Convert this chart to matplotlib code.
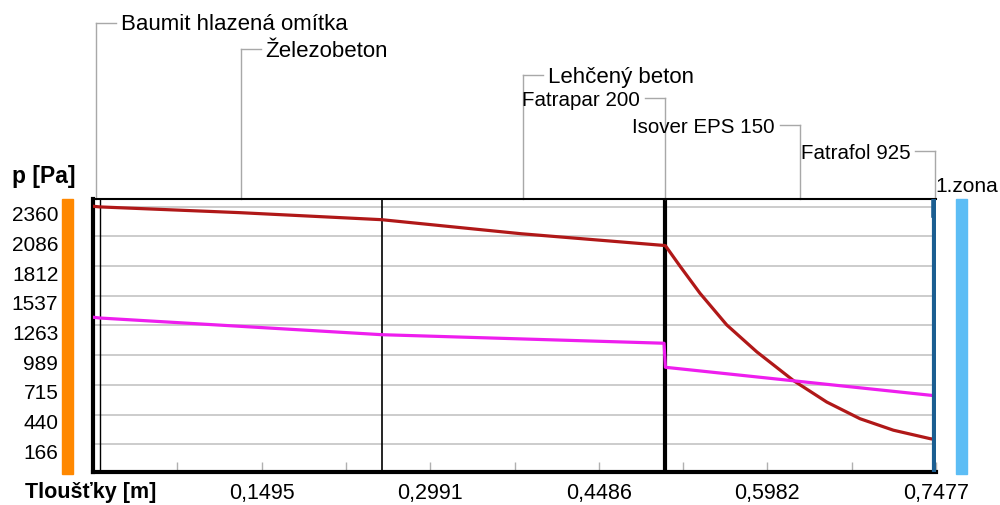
import numpy as np
import matplotlib
matplotlib.use("Agg")
import matplotlib.pyplot as plt
import matplotlib.transforms as mtransforms
from matplotlib.patches import Rectangle
from matplotlib.lines import Line2D

plt.rcParams['font.family'] = ['Liberation Sans', 'DejaVu Sans']

# layers (name, thickness in m)
layer_names = ["Baumit hlazená omítka", "Železobeton", "Lehčený beton",
               "Fatrapar 200", "Isover EPS 150", "Fatrafol 925"]
layer_d = [0.006, 0.25, 0.2505, 0.0012, 0.2385, 0.0015]

# saturated vapour pressure (red)
red_x = [0, 0.006, 0.13, 0.256, 0.38, 0.5065, 0.5077, 0.5207, 0.5384, 0.5621,
         0.5887, 0.6212, 0.6508, 0.6803, 0.7099, 0.7424, 0.7462, 0.7477]
red_y = [2364, 2358, 2305, 2240, 2110, 2002, 2000, 1810, 1560, 1268,
         1020, 755, 556, 402, 296, 218, 212, 210]

# partial vapour pressure (magenta)
mag_x = [0, 0.006, 0.256, 0.5065, 0.5077, 0.7462, 0.7477]
mag_y = [1339, 1332, 1178, 1099, 877, 615, 215]

y_ticks = [166, 440, 715, 989, 1263, 1537, 1812, 2086, 2360]
x_total = 0.7477

W, H = 1000, 506
fig = plt.figure(figsize=(W / 100, H / 100), dpi=100)
ax = fig.add_axes([93 / W, 1 - 473 / H, 843 / W, 273 / H])
ax.set_xlim(0, x_total)
ax.set_ylim(-90, 2431)

# grid
for v in y_ticks:
    ax.axhline(v, color='#c4c4c4', lw=1.2, zorder=1)

bounds = np.cumsum(layer_d)
centers = bounds - np.array(layer_d) / 2

# layer boundaries
ax.axvline(bounds[0], color='black', lw=1.0, zorder=2)
ax.axvline(bounds[1], color='black', lw=1.2, zorder=2)
ax.axvline(bounds[2] + layer_d[3] / 2, color='black', lw=3.0, zorder=2)
ax.axvline(0.7459, color='#1b5e91', lw=3.0, zorder=4)
ax.axvline(0.7455, ymin=0.941, ymax=0.989, color='#1b5e91', lw=4.0, zorder=4)

# curves
ax.plot(red_x, red_y, color='#b01818', lw=2.3, zorder=3, solid_joinstyle='round')
ax.plot(mag_x, mag_y, color='#ee1eee', lw=2.3, zorder=3)

# spines
for s in ['left', 'bottom']:
    ax.spines[s].set_linewidth(3.0)
    ax.spines[s].set_color('black')
ax.spines['top'].set_linewidth(1.5)
ax.spines['right'].set_visible(False)

# y ticks
ax.set_yticks(y_ticks)
ax.set_yticklabels([str(v) for v in y_ticks], fontsize=15)
ax.tick_params(axis='y', length=0, pad=25)
off = mtransforms.ScaledTranslation(0, -6 / 100, fig.dpi_scale_trans)
for lab in ax.get_yticklabels():
    lab.set_transform(lab.get_transform() + off)

# x ticks
step = x_total / 10
major = [step * k for k in (2, 4, 6, 8, 10)]
minor = [step * k for k in (1, 3, 5, 7, 9)]
ax.set_xticks(major)
ax.set_xticks(minor, minor=True)
ax.set_xticklabels([f"{v:.4f}".replace('.', ',') for v in major], fontsize=15.5)
ax.tick_params(axis='x', which='both', direction='in', length=7, width=1,
               color='#b0b0b0', pad=7)

# axis titles
fig.text(12 / W, 1 - 176 / H, "p [Pa]", fontsize=16.5, fontweight='bold',
         va='center', ha='left')
fig.text(25 / W, 1 - 493 / H, "Tloušťky [m]", fontsize=15.5, fontweight='bold',
         va='center', ha='left')
fig.text(935 / W, 1 - 187 / H, "1.zona", fontsize=15, va='center', ha='left')

# side bars
fig.patches.append(Rectangle((62 / W, 1 - 475 / H), 11 / W, 275 / H,
                             transform=fig.transFigure, color='#ff8800'))
fig.patches.append(Rectangle((956 / W, 1 - 475 / H), 11 / W, 275 / H,
                             transform=fig.transFigure, color='#5cbdf5'))

# layer labels with leaders
px = x_total / 843
label_y = [23.5, 50, 76, 99, 126, 152]
label_side = [1, 1, 1, -1, -1, -1]
blend = mtransforms.blended_transform_factory(ax.transData, fig.transFigure)
top_y = 1 - 200 / H
for name, xc, yp, side in zip(layer_names, centers, label_y, label_side):
    yf = 1 - yp / H
    ax.add_line(Line2D([xc, xc], [yf, top_y], transform=blend, color='#a8a8a8',
                       lw=1, clip_on=False))
    ax.add_line(Line2D([xc, xc + side * 20 * px], [yf, yf], transform=blend,
                       color='#a8a8a8', lw=1, clip_on=False))
    ax.text(xc + side * 25 * px, yf - 1.5 / H, name, transform=blend,
            fontsize=16 if side > 0 else 14.8,
            va='center', ha='left' if side > 0 else 'right', clip_on=False)

fig.savefig("out.png", dpi=100)
